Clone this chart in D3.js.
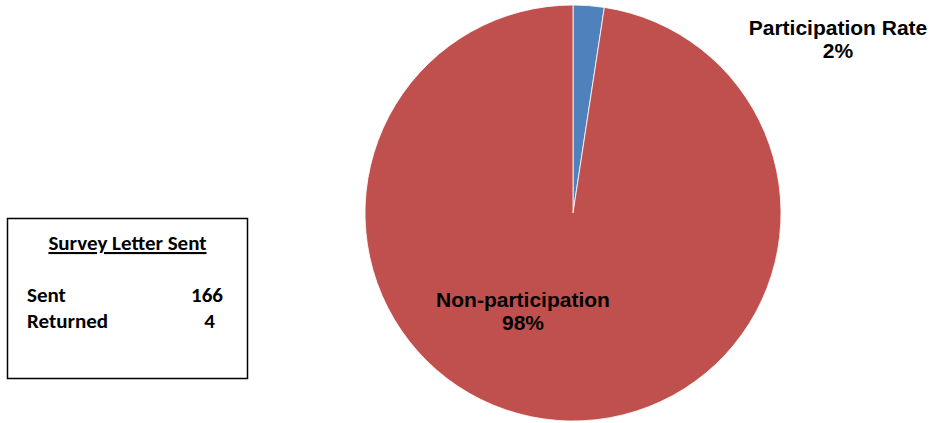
<!DOCTYPE html>
<html>
<head>
<meta charset="utf-8">
<script src="https://cdn.jsdelivr.net/npm/d3@7"></script>
<style>
  body { margin: 0; background: #fff; }
  svg { display: block; }
</style>
</head>
<body>
<div id="chart"></div>
<script>
// survey numbers
const categories = ["Participation Rate", "Non-participation"];
const values = [4, 162];
const pctLabels = ["2%", "98%"];
const colors = ["#4F81BD", "#C0504D"];

const boxTitle = "Survey Letter Sent";
const boxRows = ["Sent", "Returned"];
const boxCounts = [166, 4];

const width = 934, height = 423;

const svg = d3.select("#chart")
  .append("svg")
  .attr("width", width)
  .attr("height", height);

const cx = 573, cy = 213, radius = 208;

const pie = d3.pie().sort(null).value(d => d);
const arc = d3.arc().innerRadius(0).outerRadius(radius);

const g = svg.append("g").attr("transform", `translate(${cx},${cy})`);

g.selectAll("path")
  .data(pie(values))
  .enter()
  .append("path")
    .attr("d", arc)
    .attr("fill", (d, i) => colors[i])
    .attr("stroke", "#fff")
    .attr("stroke-width", 0.8);

// data labels
const labelPos = [[838, 35], [523, 307]];
const lbl = svg.selectAll("text.lbl")
  .data(categories)
  .enter()
  .append("text")
    .attr("class", "lbl")
    .attr("text-anchor", "middle")
    .attr("font-family", "Liberation Sans, Arial, sans-serif")
    .attr("font-weight", "bold")
    .attr("font-size", "21px")
    .attr("fill", "#000");

lbl.append("tspan")
  .attr("x", (d, i) => labelPos[i][0])
  .attr("y", (d, i) => labelPos[i][1])
  .text(d => d);
lbl.append("tspan")
  .attr("x", (d, i) => labelPos[i][0])
  .attr("y", (d, i) => labelPos[i][1] + 23)
  .text((d, i) => pctLabels[i]);

// side box
svg.append("rect")
  .attr("x", 7.5).attr("y", 218.5)
  .attr("width", 240).attr("height", 160)
  .attr("fill", "#fff")
  .attr("stroke", "#000")
  .attr("stroke-width", 1.5);

const boxFont = "Carlito, 'Open Sans', sans-serif";

svg.append("text")
  .attr("x", 127.5).attr("y", 250)
  .attr("text-anchor", "middle")
  .attr("font-family", boxFont)
  .attr("font-weight", "bold")
  .attr("font-size", "21px")
  .attr("text-decoration", "underline")
  .text(boxTitle);

const rowY = [302, 328];
const numRight = [223, 215];
svg.selectAll("text.row")
  .data(boxRows)
  .enter()
  .append("text")
    .attr("class", "row")
    .attr("x", 27)
    .attr("y", (d, i) => rowY[i])
    .attr("font-family", boxFont)
    .attr("font-weight", "bold")
    .attr("font-size", "21px")
    .text(d => d);

svg.selectAll("text.num")
  .data(boxCounts)
  .enter()
  .append("text")
    .attr("class", "num")
    .attr("x", (d, i) => numRight[i])
    .attr("y", (d, i) => rowY[i])
    .attr("text-anchor", "end")
    .attr("font-family", boxFont)
    .attr("font-weight", "bold")
    .attr("font-size", "21px")
    .text(d => d);
</script>
</body>
</html>
